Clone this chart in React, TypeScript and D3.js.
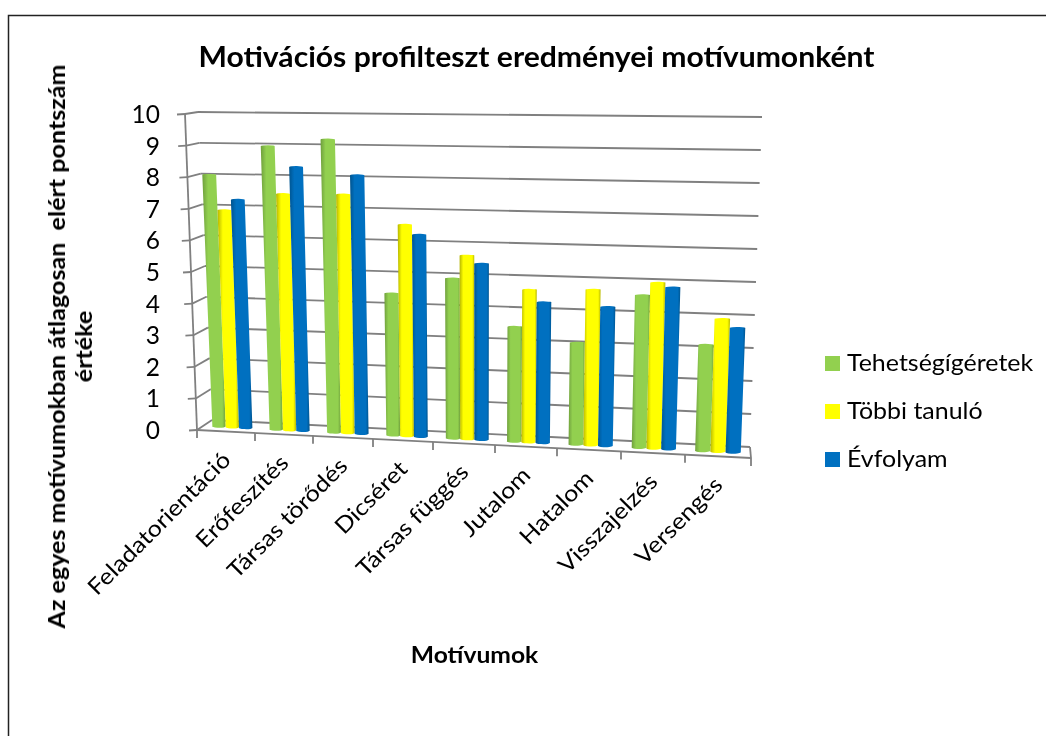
import React from 'react';
import * as d3 from 'd3';

const categories = ['Feladatorientáció', 'Erőfeszítés', 'Társas törődés', 'Dicséret', 'Társas függés', 'Jutalom', 'Hatalom', 'Visszajelzés', 'Versengés'];
const seriesNames = ['Tehetségígéretek', 'Többi tanuló', 'Évfolyam'];
const tehetseg = [8.03, 8.97, 9.2, 4.42, 4.94, 3.51, 3.09, 4.6, 3.17];
const tobbi = [6.91, 7.46, 7.48, 6.57, 5.66, 4.66, 4.72, 4.99, 3.96];
const evfolyam = [7.25, 8.32, 8.09, 6.27, 5.42, 4.29, 4.21, 4.86, 3.71];
const colors = ['#92D050', '#FFFF00', '#0070C0'];
const darks = ['#6f9f3c', '#b5b500', '#00548f'];
const tickValues = [0, 1, 2, 3, 4, 5, 6, 7, 8, 9, 10];
const frontTicks = [197, 255, 313, 373, 433, 495, 557, 621, 685, 751];

const font = 'Lato, Carlito, sans-serif';
const xF = d3.scaleLinear().domain(d3.range(10)).range(frontTicks);
const floorF = d3.scaleLinear().domain([197, 751]).range([430, 458]);
const floorB = d3.scaleLinear().domain([212, 750]).range([420, 447]);
const xFtoB = d3.scaleLinear().domain([197, 751]).range([212, 750]);
const leanF = d3.scaleLinear().domain([197, 751]).range([-12, 13]);
const leanB = d3.scaleLinear().domain([212, 750]).range([-14, 12]);
const unitF = d3.scaleLinear().domain([197, 751]).range([31.6, 34]);
const unitB = d3.scaleLinear().domain([212, 750]).range([30.8, 33]);

function project(u: number, v: number, d: number): [number, number] {
  const xf = xF(u);
  const xb = xFtoB(xf);
  const pf: [number, number] = [xf + leanF(xf) * v / 10, floorF(xf) - unitF(xf) * v];
  const pb: [number, number] = [xb + leanB(xb) * v / 10, floorB(xb) - unitB(xb) * v];
  return [pf[0] + (pb[0] - pf[0]) * d, pf[1] + (pb[1] - pf[1]) * d];
}
const line = d3.line();
const seg = (a: [number, number], b: [number, number]) => line([a, b]) as string;

const allSeries = [tehetseg, tobbi, evfolyam];
const barDepth = 0.45;
const clusterW = 0.7;

function barPath(i: number, s: number, val: number) {
  const w = clusterW / 3;
  const u0 = i + (1 - clusterW) / 2 + s * w;
  const u1 = u0 + w;
  const tl = project(u0, val, barDepth);
  const tr = project(u1, val, barDepth);
  const bl = project(u0, 0, barDepth);
  const br = project(u1, 0, barDepth);
  const rx = (br[0] - bl[0]) / 2;
  const rt = (tr[0] - tl[0]) / 2;
  return `M${tl} A${rt},1 0 0 1 ${tr} L${br} A${rx},1.5 0 0 1 ${bl} Z`;
}

const labelAnchors = categories.map((_, i) => project(i + 0.5, 0, 0));

export default function App() {
  return (
    <svg width={1046} height={736} style={{ position: 'absolute', left: 0, top: 0, background: '#fff' }} fontFamily={font}>
      <defs>
        {colors.map((c, i) => (
          <linearGradient key={i} id={`g${i}`} x1="0" x2="1" y1="0" y2="0">
            <stop offset="0" stopColor={darks[i]} />
            <stop offset="0.25" stopColor={c} />
            <stop offset="0.85" stopColor={c} />
            <stop offset="1" stopColor={darks[i]} />
          </linearGradient>
        ))}
        <filter id="soft" x="-5%" y="-5%" width="110%" height="110%">
          <feGaussianBlur stdDeviation="0.5" />
        </filter>
        <filter id="softText" x="-5%" y="-5%" width="110%" height="110%">
          <feGaussianBlur stdDeviation="0.3" />
        </filter>
      </defs>
      <path d="M8.5,736 V15.5 H1046" fill="none" stroke="#222" strokeWidth={1.5} />
      <g filter="url(#soft)">
        <g stroke="#808080" strokeWidth={1.8} fill="none">
          {tickValues.map(v => (
            <g key={v}>
              <path d={seg(project(0, v, 1), project(9, v, 1))} />
              <path d={seg(project(0, v, 0), project(0, v, 1))} />
              <path d={seg(project(0, v, 0), [project(0, v, 0)[0] - 8, project(0, v, 0)[1] + 0.5])} />
            </g>
          ))}
          <path d={seg(project(0, 0, 0), project(0, 10, 0))} />
          <path d={seg(project(0, 0, 0), project(9, 0, 0))} />
          <path d={seg(project(9, 0, 0), project(9, 0, 1))} />
          {d3.range(10).map(i => {
            const p = project(i, 0, 0);
            return <path key={i} d={seg(p, [p[0], p[1] + 8])} />;
          })}
        </g>
        {categories.map((_, i) =>
          allSeries.map((vals, s) => (
            <path key={`${i}-${s}`} d={barPath(i, s, vals[i])} fill={`url(#g${s})`} />
          ))
        )}
      </g>
      <g filter="url(#softText)" fill="#000">
        <text transform="translate(536.5,67) scale(1.05,1)" textAnchor="middle" fontSize={28.7} fontWeight={700}>Motivációs profilteszt eredményei motívumonként</text>
        <g fontSize={24.5} textAnchor="end">
          {tickValues.map(v => (
            <text key={v} x={160} y={project(0, v, 0)[1] + 9}>{v}</text>
          ))}
        </g>
        <g fontSize={22.5} textAnchor="end">
          {categories.map((c, i) => (
            <text key={c} transform={`translate(${labelAnchors[i][0] + 6},${labelAnchors[i][1] + 30}) rotate(-45) scale(1.12,1)`}>{c}</text>
          ))}
        </g>
        <text transform="translate(474.5,663) scale(1.1,1)" textAnchor="middle" fontSize={22.4} fontWeight={700}>Motívumok</text>
        <g fontSize={22.4} fontWeight={700} textAnchor="middle">
          <text transform="translate(65,346.5) rotate(-90) scale(1.12,1)">Az egyes motívumokban átlagosan{'\u00A0 '}elért pontszám</text>
          <text transform="translate(92,346.5) rotate(-90) scale(1.12,1)">értéke</text>
        </g>
        <g fontSize={22.5}>
          {seriesNames.map((n, i) => (
            <g key={n}>
              <rect x={825} y={356 + i * 48} width={15} height={15} fill={colors[i]} />
              <text transform={`translate(847,${371 + i * 48}) scale(1.11,1)`}>{n}</text>
            </g>
          ))}
        </g>
      </g>
    </svg>
  );
}
